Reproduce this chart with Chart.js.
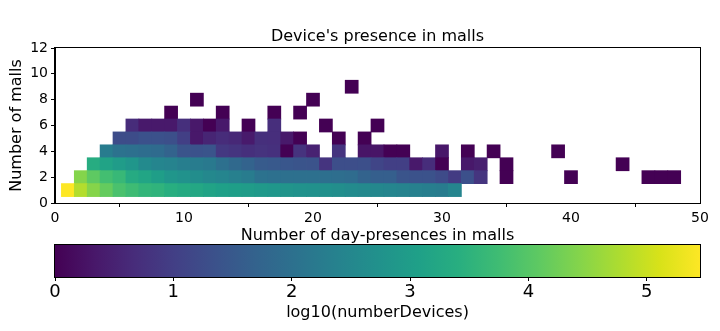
<!DOCTYPE html>
<html>
<head>
<meta charset="utf-8">
<script src="https://cdn.jsdelivr.net/npm/chart.js@4.4.1/dist/chart.umd.min.js"></script>
<style>
html, body { margin: 0; padding: 0; background: #fff; }
#wrap { position: relative; width: 720px; height: 331px; overflow: hidden; }
#heat { position: absolute; left: 0; top: 0; }
#cbar { position: absolute; left: 0; top: 235px; }
</style>
</head>
<body>
<div id="wrap">
  <canvas id="heat" width="720" height="245"></canvas>
  <canvas id="cbar" width="720" height="96"></canvas>
</div>
<script>
// log10(numberDevices) per cell. one array per "number of malls" row,
// index 0 = 1 day-presence, null = no device in that cell
var row1 = [5.45, 4.82, 4.44, 4.14, 3.87, 3.73, 3.57, 3.52, 3.41, 3.3, 3.24, 3.13, 3.07, 3.03, 2.97,
            2.9, 2.85, 2.8, 2.75, 2.72, 2.7, 2.65, 2.6, 2.55, 2.5, 2.45, 2.4, 2.35, 2.3, 2.25, 2.45];
var row2 = [null, 4.43, 4.09, 3.79, 3.65, 3.32, 3.19, 3.03, 2.83, 2.75, 2.64, 2.53, 2.45, 2.34, 2.26,
            2.04, 2.0, 2.0, 2.0, 2.0, 1.98, 1.95, 1.9, 1.7, 1.63, 1.63, 1.4, 1.36, 1.36, 1.23,
            0.93, 1.33, 0.82, null, 0, null, null, null, null, 0, null, null, null, null, null, 0, 0, 0];
var row3 = [null, null, 3.35, 3.13, 2.97, 2.83, 2.56, 2.45, 2.4, 2.3, 2.26, 2.2, 2.0, 1.85, 1.7,
            1.55, 1.5, 1.45, 1.4, 1.38, 0.8, 1.28, 1.28, 1.3, 1.12, 1.0, 1.0, 0.36, 0.68, 0,
            null, 0.34, 0.45, null, 0, null, null, null, null, null, null, null, null, 0];
var row4 = [null, null, null, 2.25, 2.05, 2.0, 1.93, 1.88, 1.7, 1.4, 1.36, 1.4, 0.87, 0.8, 0.72,
            0.78, 0.74, 0, 0.78, 0.5, null, 0.8, null, 0.3, 0.3, 0, 0, null, null, 0.32,
            null, 0, null, 0, null, null, null, null, 0];
var row5 = [null, null, null, null, 1.25, 1.25, 1.35, 1.35, 1.3, 1.0, 0.34, 0.55, 0.66, 0.6, 0.38,
            0.72, 0.7, 0.36, 0, null, null, 0, null, 0];
var row6 = [null, null, null, null, null, 0.66, 0.36, 0.36, 0.36, 0.72, 0.34, 0, 0.36, null, 0,
            null, 0.7, null, null, null, 0, null, null, null, 0];
var row7 = [null, null, null, null, null, null, null, null, 0, null, null, null, 0, null, null,
            null, 0, null, 0];
var row8 = [null, null, null, null, null, null, null, null, null, null, 0, null, null, null, null,
            null, null, null, null, 0];
var row9 = [null, null, null, null, null, null, null, null, null, null, null, null, null, null, null,
            null, null, null, null, null, null, null, 0];

var rows = [row1, row2, row3, row4, row5, row6, row7, row8, row9];
var mallCounts = [1, 2, 3, 4, 5, 6, 7, 8, 9];
var vMax = 5.45;

// matplotlib viridis, 17 stops
var viridis = ['#440154', '#48186a', '#472d7b', '#424086', '#3b528b', '#33638d', '#2c728e',
               '#26828e', '#21918c', '#1fa088', '#28ae80', '#3fbc73', '#5ec962', '#84d44b',
               '#addc30', '#d8e219', '#fde725'];

function hexRgb(h) {
    return [parseInt(h.substr(1, 2), 16), parseInt(h.substr(3, 2), 16), parseInt(h.substr(5, 2), 16)];
}

function viridisColor(t) {
    t = Math.max(0, Math.min(1, t));
    var p = t * (viridis.length - 1);
    var i = Math.min(Math.floor(p), viridis.length - 2);
    var f = p - i;
    var a = hexRgb(viridis[i]), b = hexRgb(viridis[i + 1]);
    return 'rgb(' + Math.round(a[0] + (b[0] - a[0]) * f) + ',' +
        Math.round(a[1] + (b[1] - a[1]) * f) + ',' +
        Math.round(a[2] + (b[2] - a[2]) * f) + ')';
}

function buildDatasets() {
    var sets = [];
    for (var r = 0; r < rows.length; r++) {
        var pts = [];
        for (var i = 0; i < rows[r].length; i++) {
            if (rows[r][i] === null) continue;
            pts.push({x: i + 1, y: [mallCounts[r] - 0.5, mallCounts[r] + 0.5], v: rows[r][i]});
        }
        sets.push({
            label: mallCounts[r] + ' malls',
            data: pts,
            backgroundColor: function(c) { return c.raw ? viridisColor(c.raw.v / vMax) : '#000'; },
            borderWidth: 0,
            barPercentage: 1,
            categoryPercentage: 1,
            inflateAmount: 0.4,
            grouped: false
        });
    }
    return sets;
}

// matplotlib draws a full box round the axes
var framePlugin = {
    id: 'frame',
    afterDraw: function(chart) {
        var a = chart.chartArea, ctx = chart.ctx;
        ctx.save();
        ctx.strokeStyle = '#000';
        ctx.lineWidth = 1;
        ctx.strokeRect(Math.round(a.left) - 0.5, Math.round(a.top) - 0.5,
            Math.round(a.right - a.left) + 1, Math.round(a.bottom - a.top) + 1);
        ctx.restore();
    }
};

var gradientPlugin = {
    id: 'cbarGradient',
    beforeDatasetsDraw: function(chart) {
        var a = chart.chartArea, xs = chart.scales.x, ctx = chart.ctx;
        var g = ctx.createLinearGradient(xs.getPixelForValue(0), 0, xs.getPixelForValue(vMax), 0);
        for (var i = 0; i < viridis.length; i++) g.addColorStop(i / (viridis.length - 1), viridis[i]);
        ctx.save();
        ctx.fillStyle = g;
        ctx.fillRect(a.left, a.top, a.right - a.left, a.bottom - a.top);
        ctx.restore();
    }
};

Chart.defaults.font.family = "'DejaVu Sans', sans-serif";
Chart.defaults.color = '#000';

var heat = new Chart(document.getElementById('heat'), {
    type: 'bar',
    data: { datasets: buildDatasets() },
    options: {
        responsive: false,
        animation: false,
        events: [],
        layout: { padding: { left: 0, right: 20, top: 0, bottom: 0 } },
        plugins: {
            legend: { display: false },
            tooltip: { enabled: false },
            title: {
                display: true,
                text: "Device's presence in malls",
                fullSize: false,
                color: '#000',
                font: { size: 16, weight: 'normal' },
                padding: { top: 27.4, bottom: 1.4 }
            }
        },
        scales: {
            x: {
                type: 'linear',
                offset: false,
                min: 0,
                max: 50,
                ticks: { stepSize: 10, font: { size: 14 }, padding: 3, maxRotation: 0, includeBounds: false },
                grid: { drawOnChartArea: false, tickLength: 4, tickColor: '#000' },
                border: { color: '#000' },
                title: { display: true, text: 'Number of day-presences in malls', font: { size: 16 }, padding: { top: 0, bottom: 0 } },
                afterFit: function(s) { s.height = 42; }
            },
            y: {
                type: 'linear',
                min: 0,
                max: 12,
                ticks: { stepSize: 2, font: { size: 14 }, padding: 3 },
                grid: { drawOnChartArea: false, tickLength: 4, tickColor: '#000' },
                border: { color: '#000' },
                title: { display: true, text: 'Number of malls', font: { size: 16 }, padding: { top: 7, bottom: 0 } },
                afterFit: function(s) { s.width = 55; }
            }
        }
    },
    plugins: [framePlugin]
});

var cbar = new Chart(document.getElementById('cbar'), {
    type: 'scatter',
    data: { datasets: [] },
    options: {
        responsive: false,
        animation: false,
        events: [],
        layout: { padding: { left: 55, right: 20, top: 10, bottom: 0 } },
        plugins: { legend: { display: false }, tooltip: { enabled: false } },
        scales: {
            x: {
                type: 'linear',
                min: 0,
                max: vMax,
                ticks: { stepSize: 1, font: { size: 18 }, padding: 1, maxRotation: 0, includeBounds: false },
                grid: { drawOnChartArea: false, tickLength: 4, tickColor: '#000' },
                border: { color: '#000' },
                title: { display: true, text: 'log10(numberDevices)', font: { size: 16 }, padding: { top: 0, bottom: 9 } },
                afterFit: function(s) { s.height = 54; }
            },
            y: { display: false, min: 0, max: 1 }
        }
    },
    plugins: [gradientPlugin, framePlugin]
});
</script>
</body>
</html>
